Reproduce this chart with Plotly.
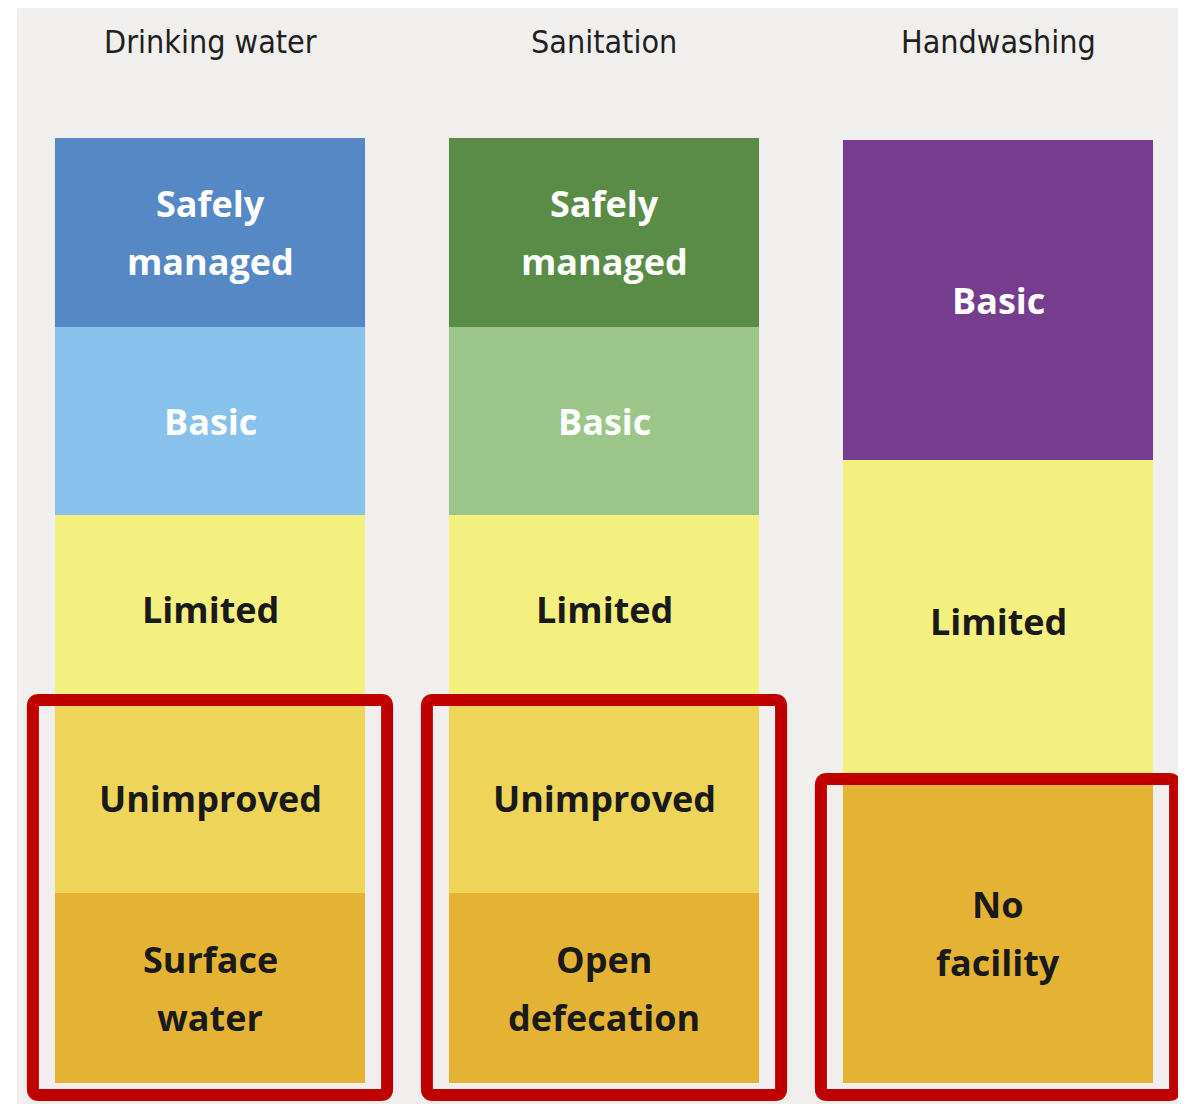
import plotly.graph_objects as go

# ---- data ----
categories = ["Drinking water", "Sanitation", "Handwashing"]

water_levels = ["Surface\nwater", "Unimproved", "Limited", "Basic", "Safely\nmanaged"]
water_values = [190, 189, 189, 188, 189]

sanitation_levels = ["Open\ndefecation", "Unimproved", "Limited", "Basic", "Safely\nmanaged"]
sanitation_values = [190, 189, 189, 188, 189]

hygiene_levels = ["No\nfacility", "Limited", "Basic"]
hygiene_values = [300, 323, 320]

highlighted_counts = [2, 2, 1]  # bottom segments outlined in red

# ---- styles ----
water_colors = ["#E5B334", "#EED55A", "#F4F080", "#88C1EC", "#5588C5"]
sanitation_colors = ["#E5B334", "#EED55A", "#F4F080", "#9BC589", "#5A8C48"]
hygiene_colors = ["#E5B334", "#F4F080", "#763D8F"]
water_text = ["#1A1A1A", "#1A1A1A", "#1A1A1A", "#FFFFFF", "#FFFFFF"]
sanitation_text = ["#1A1A1A", "#1A1A1A", "#1A1A1A", "#FFFFFF", "#FFFFFF"]
hygiene_text = ["#1A1A1A", "#1A1A1A", "#FFFFFF"]

# page has an 8px body margin, so the figure is 8px smaller
W, H = 1178, 1096
UNIT = 394.0          # px per category
FIRST_CENTER = 202.0  # px of first column centre inside figure
BAR_W = 0.787
LINE_GAP = 58
LABEL_FONT = dict(family="Open Sans, Noto Sans, sans-serif", size=36)
TITLE_FONT = dict(family="Liberation Sans Narrow, DejaVu Sans Condensed, Lato, sans-serif",
                  size=32, color="#231F20")

columns = [
    (water_levels, water_values, water_colors, water_text),
    (sanitation_levels, sanitation_values, sanitation_colors, sanitation_text),
    (hygiene_levels, hygiene_values, hygiene_colors, hygiene_text),
]


def rounded_rect(x0, x1, y0, y1, rx, ry):
    return (f"M {x0+rx},{y0} L {x1-rx},{y0} Q {x1},{y0} {x1},{y0+ry} "
            f"L {x1},{y1-ry} Q {x1},{y1} {x1-rx},{y1} "
            f"L {x0+rx},{y1} Q {x0},{y1} {x0},{y1-ry} "
            f"L {x0},{y0+ry} Q {x0},{y0} {x0+rx},{y0} Z")


fig = go.Figure()
annotations = []
shapes = []

# background panel
shapes.append(dict(type="rect", xref="paper", yref="paper", x0=9 / W, x1=1175 / W,
                   y0=0, y1=1, fillcolor="#F0EFED", line=dict(width=0), layer="below"))

for ci, (cat, (levels, values, colors, tcolors)) in enumerate(zip(categories, columns)):
    base = 0
    for lvl, val, col, tc in zip(levels, values, colors, tcolors):
        fig.add_trace(go.Bar(x=[cat], y=[val], base=[base], width=BAR_W,
                             marker=dict(color=col, line=dict(width=0)),
                             showlegend=False, hoverinfo="skip"))
        mid = base + val / 2
        lines = lvl.split("\n")
        n = len(lines)
        for li, t in enumerate(lines):
            annotations.append(dict(x=ci, y=mid + ((n - 1) / 2 - li) * LINE_GAP, xref="x", yref="y",
                                    text="<b>%s</b>" % t, showarrow=False,
                                    font=dict(color=tc, **LABEL_FONT), xanchor="center", yanchor="middle"))
        base += val
    # title
    annotations.append(dict(x=ci, y=1041, xref="x", yref="y", text=cat, showarrow=False,
                            font=TITLE_FONT, xanchor="center", yanchor="middle"))
    # red highlight box
    top = sum(values[:highlighted_counts[ci]]) + 4
    pad = 0.056
    shapes.append(dict(type="path", xref="x", yref="y",
                       path=rounded_rect(ci - BAR_W / 2 - pad, ci + BAR_W / 2 + pad, -12, top,
                                         6 / UNIT, 6),
                       line=dict(color="#C00000", width=12),
                       fillcolor="rgba(0,0,0,0)", layer="above"))

fig.update_layout(
    width=W, height=H,
    margin=dict(l=0, r=0, t=0, b=0),
    paper_bgcolor="#FFFFFF", plot_bgcolor="rgba(0,0,0,0)",
    barmode="overlay",
    xaxis=dict(type="category", categoryorder="array", categoryarray=categories,
               range=[-FIRST_CENTER / UNIT, (W - FIRST_CENTER) / UNIT],
               visible=False, fixedrange=True),
    yaxis=dict(range=[-21, 1075], visible=False, fixedrange=True),
    annotations=annotations, shapes=shapes,
)

fig.write_html("out.html")
